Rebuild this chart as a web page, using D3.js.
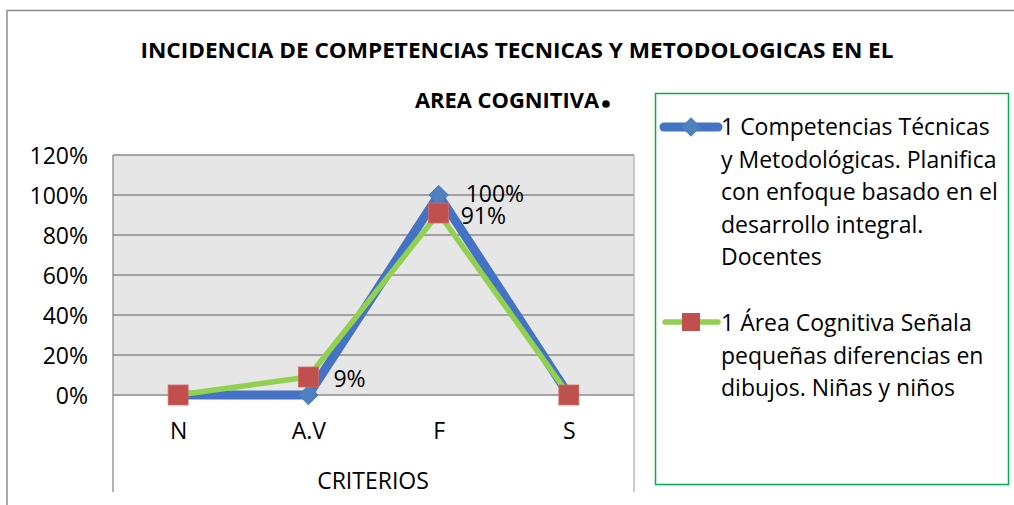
<!DOCTYPE html>
<html>
<head>
<meta charset="utf-8">
<script src="https://cdn.jsdelivr.net/npm/d3@7"></script>
<style>
  body { margin: 0; background: #fff; }
  text { font-family: "Open Sans", sans-serif; fill: #000; }
</style>
</head>
<body>
<div id="chart"></div>
<script>
// chart data
const categories = ["N", "A.V", "F", "S"];
const docentes = [0, 0, 1.00, 0];
const ninos = [0, 0.09, 0.91, 0];
const yTicks = [0, 0.2, 0.4, 0.6, 0.8, 1.0, 1.2];
const titleLines = ["INCIDENCIA DE COMPETENCIAS TECNICAS Y METODOLOGICAS EN EL", "AREA COGNITIVA"];
const legendDocentes = ["1 Competencias Técnicas", "y Metodológicas. Planifica", "con enfoque basado en el", "desarrollo integral.", "Docentes"];
const legendNinos = ["1 Área Cognitiva Señala", "pequeñas diferencias en", "dibujos. Niñas y niños"];

const width = 1014, height = 505;
const plot = {left: 113, right: 634, top: 155, bottom: 395};
const fs = "23px";

const svg = d3.select("#chart").append("svg")
    .attr("width", width)
    .attr("height", height);

// outer frame
svg.append("path")
    .attr("d", `M7,${height} L7,10.5 L${width},10.5`)
    .attr("fill", "none")
    .attr("stroke", "#8c8c8c")
    .attr("stroke-width", 1.5);

// title
svg.append("text")
    .attr("x", 517).attr("y", 58)
    .attr("text-anchor", "middle")
    .attr("textLength", 753)
    .attr("lengthAdjust", "spacingAndGlyphs")
    .style("font-weight", "bold")
    .style("font-size", "21px")
    .text(titleLines[0]);
svg.append("text")
    .attr("x", 415).attr("y", 108)
    .attr("textLength", 184)
    .attr("lengthAdjust", "spacingAndGlyphs")
    .style("font-weight", "bold")
    .style("font-size", "21px")
    .text(titleLines[1]);
svg.append("circle")
    .attr("cx", 606).attr("cy", 104).attr("r", 3.8)
    .attr("fill", "#000");

// scales
let x = d3.scalePoint()
    .domain(categories)
    .range([plot.left, plot.right])
    .padding(0.5);

let y = d3.scaleLinear()
    .domain([0, 1.2])
    .range([plot.bottom, plot.top]);

// plot background
svg.append("rect")
    .attr("x", plot.left).attr("y", plot.top)
    .attr("width", plot.right - plot.left)
    .attr("height", plot.bottom - plot.top)
    .attr("fill", "#e6e6e6");

// gridlines
svg.append("g")
    .selectAll("line")
    .data(yTicks)
    .enter()
    .append("line")
    .attr("x1", plot.left).attr("x2", plot.right)
    .attr("y1", d => y(d)).attr("y2", d => y(d))
    .attr("stroke", "#8a8a8a")
    .attr("stroke-width", 1.3);

// vertical frame lines of the plot / category area
svg.append("line")
    .attr("x1", plot.left).attr("x2", plot.left)
    .attr("y1", plot.top).attr("y2", 492)
    .attr("stroke", "#8a8a8a").attr("stroke-width", 1.3);
svg.append("line")
    .attr("x1", plot.right).attr("x2", plot.right)
    .attr("y1", plot.top).attr("y2", 492)
    .attr("stroke", "#b0b0b0").attr("stroke-width", 1.3);

// y axis labels
let yAxis = d3.axisLeft(y)
    .tickValues(yTicks)
    .tickFormat(d3.format(".0%"))
    .tickSize(0)
    .tickPadding(25);

svg.append("g")
    .attr("transform", `translate(${plot.left},0)`)
    .call(yAxis)
    .call(g => g.select(".domain").remove())
    .selectAll("text")
    .style("font-family", "'Open Sans', sans-serif")
    .style("font-size", fs)
    .attr("dy", "0.35em");

// x axis labels
let xAxis = d3.axisBottom(x)
    .tickSize(0)
    .tickPadding(28);

svg.append("g")
    .attr("transform", `translate(0,${plot.bottom})`)
    .call(xAxis)
    .call(g => g.select(".domain").remove())
    .selectAll("text")
    .style("font-family", "'Open Sans', sans-serif")
    .style("font-size", fs);

svg.append("text")
    .attr("x", 373).attr("y", 489)
    .attr("text-anchor", "middle")
    .style("font-size", fs)
    .text("CRITERIOS");

// lines
let line = d3.line()
    .x((d, i) => x(categories[i]))
    .y(d => y(d));

svg.append("path")
    .datum(docentes)
    .attr("d", line)
    .attr("fill", "none")
    .attr("stroke", "#4472c4")
    .attr("stroke-width", 9)
    .attr("stroke-linejoin", "round")
    .attr("stroke-linecap", "round");

svg.append("path")
    .datum(ninos)
    .attr("d", line)
    .attr("fill", "none")
    .attr("stroke", "#92d050")
    .attr("stroke-width", 5.5)
    .attr("stroke-linejoin", "round")
    .attr("stroke-linecap", "round");

// markers
let diamond = d3.symbol().type(d3.symbolDiamond2).size(240);

svg.append("g")
    .selectAll("path")
    .data(docentes)
    .enter()
    .append("path")
    .attr("d", diamond)
    .attr("transform", (d, i) => `translate(${x(categories[i])},${y(d)})`)
    .attr("fill", "#4f81bd")
    .attr("stroke", "#4a7ebb")
    .attr("stroke-width", 1);

svg.append("g")
    .selectAll("rect")
    .data(ninos)
    .enter()
    .append("rect")
    .attr("x", (d, i) => x(categories[i]) - 10)
    .attr("y", d => y(d) - 10)
    .attr("width", 20).attr("height", 20)
    .attr("fill", "#c0504d")
    .attr("stroke", "#d46a67")
    .attr("stroke-width", 0.8);

// data labels
let pct = d3.format(".0%");
svg.append("text")
    .attr("x", x("F") + 27).attr("y", y(docentes[2]) + 7)
    .style("font-size", fs)
    .text(pct(docentes[2]));
svg.append("text")
    .attr("x", x("F") + 22).attr("y", y(ninos[2]) + 11)
    .style("font-size", fs)
    .text(pct(ninos[2]));
svg.append("text")
    .attr("x", x("A.V") + 25).attr("y", y(ninos[1]) + 10)
    .style("font-size", fs)
    .text(pct(ninos[1]));

// legend
let legend = svg.append("g").attr("class", "legend");

legend.append("rect")
    .attr("x", 655.5).attr("y", 93.5)
    .attr("width", 353).attr("height", 391)
    .attr("fill", "#fff")
    .attr("stroke", "#00b050")
    .attr("stroke-width", 1.5);

let lineH = 32.6;
let legendX = 721;

legend.append("line")
    .attr("x1", 664).attr("x2", 718)
    .attr("y1", 127).attr("y2", 127)
    .attr("stroke", "#4472c4").attr("stroke-width", 9)
    .attr("stroke-linecap", "round");
legend.append("path")
    .attr("d", diamond)
    .attr("transform", "translate(691,127)")
    .attr("fill", "#4f81bd");

legend.selectAll(".ld")
    .data(legendDocentes)
    .enter()
    .append("text")
    .attr("class", "ld")
    .attr("x", legendX)
    .attr("y", (d, i) => 135 + i * lineH)
    .style("font-size", fs)
    .text(d => d);

legend.append("line")
    .attr("x1", 665).attr("x2", 718)
    .attr("y1", 322).attr("y2", 322)
    .attr("stroke", "#92d050").attr("stroke-width", 5.5)
    .attr("stroke-linecap", "round");
legend.append("rect")
    .attr("x", 682).attr("y", 313)
    .attr("width", 18).attr("height", 18)
    .attr("fill", "#c0504d");

legend.selectAll(".ln")
    .data(legendNinos)
    .enter()
    .append("text")
    .attr("class", "ln")
    .attr("x", legendX)
    .attr("y", (d, i) => 331 + i * lineH)
    .style("font-size", fs)
    .text(d => d);
</script>
</body>
</html>
